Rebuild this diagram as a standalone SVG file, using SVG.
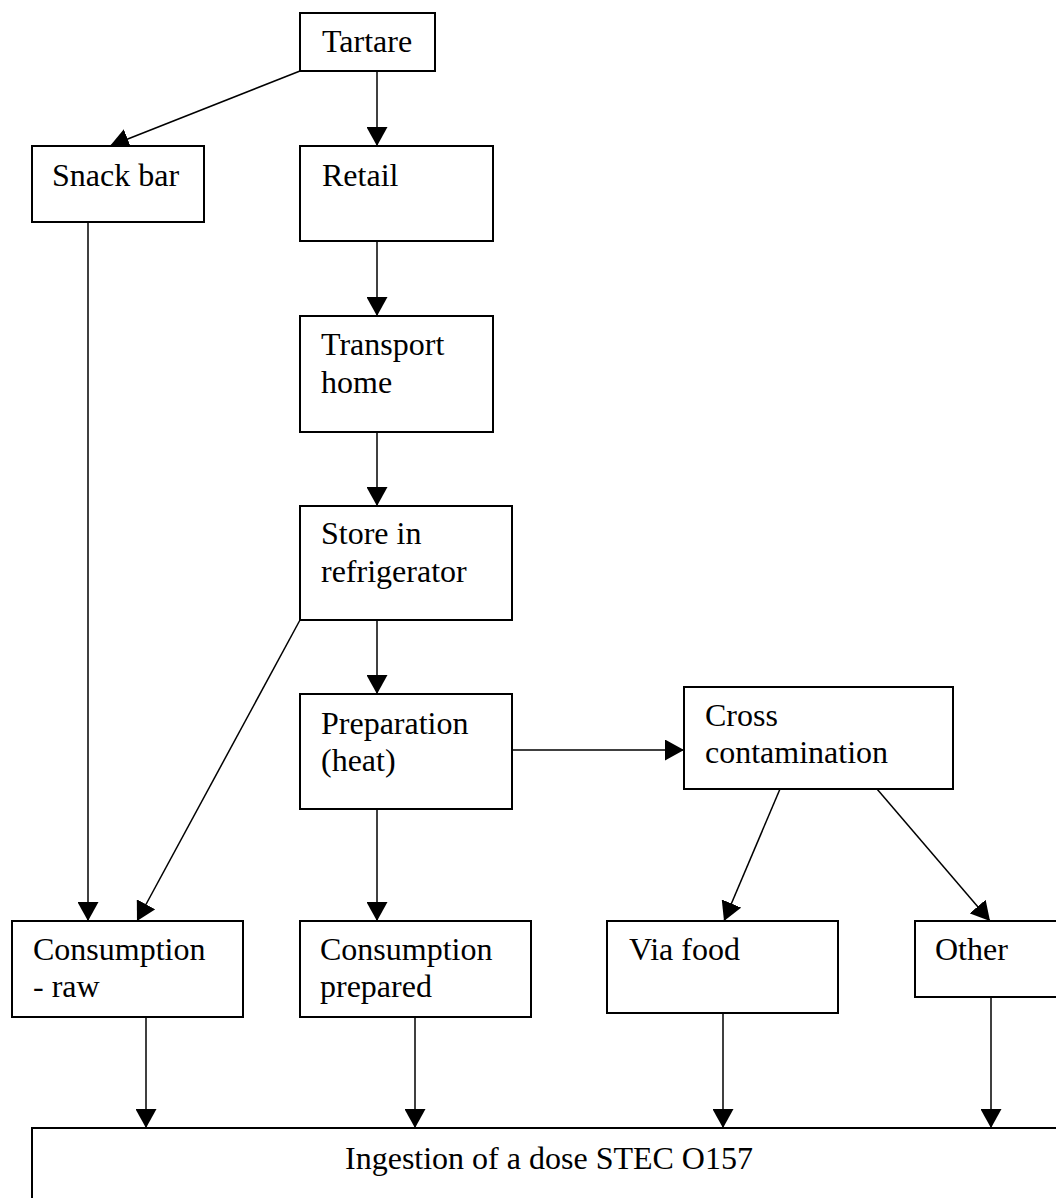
<svg xmlns="http://www.w3.org/2000/svg" width="1056" height="1198" viewBox="0 0 1056 1198">
<style>
.box{fill:#fff;stroke:#000;stroke-width:2}
.t{font-family:"Liberation Serif","Times New Roman",serif;font-size:32px;fill:#000}
.c{stroke:#000;stroke-width:1.5;fill:none}
</style>
<defs>
<marker id="ah" markerUnits="userSpaceOnUse" markerWidth="20" markerHeight="21" refX="19" refY="10.5" orient="auto">
<path d="M0,0 L19,10.5 L0,21 z" fill="#000"/>
</marker>
</defs>
<rect width="1056" height="1198" fill="#fff"/>
<g id="connectors">
<line class="c" x1="300" y1="71" x2="110" y2="146" marker-end="url(#ah)"/>
<line class="c" x1="377" y1="71" x2="377" y2="146" marker-end="url(#ah)"/>
<line class="c" x1="377" y1="241" x2="377" y2="316" marker-end="url(#ah)"/>
<line class="c" x1="377" y1="432" x2="377" y2="506" marker-end="url(#ah)"/>
<line class="c" x1="377" y1="620" x2="377" y2="694" marker-end="url(#ah)"/>
<line class="c" x1="88" y1="222" x2="88" y2="921" marker-end="url(#ah)"/>
<line class="c" x1="300" y1="620" x2="137" y2="921" marker-end="url(#ah)"/>
<line class="c" x1="512" y1="750" x2="684" y2="750" marker-end="url(#ah)"/>
<line class="c" x1="377" y1="809" x2="377" y2="921" marker-end="url(#ah)"/>
<line class="c" x1="780" y1="789" x2="724" y2="921" marker-end="url(#ah)"/>
<line class="c" x1="877" y1="789" x2="990" y2="921" marker-end="url(#ah)"/>
<line class="c" x1="146" y1="1017" x2="146" y2="1128" marker-end="url(#ah)"/>
<line class="c" x1="415" y1="1017" x2="415" y2="1128" marker-end="url(#ah)"/>
<line class="c" x1="723" y1="1013" x2="723" y2="1128" marker-end="url(#ah)"/>
<line class="c" x1="991" y1="997" x2="991" y2="1128" marker-end="url(#ah)"/>
</g>
<g id="tartare"><rect class="box" x="300" y="13" width="135" height="58"/><text class="t" x="322" y="52">Tartare</text></g>
<g id="snackbar"><rect class="box" x="32" y="146" width="172" height="76"/><text class="t" x="52" y="186">Snack bar</text></g>
<g id="retail"><rect class="box" x="300" y="146" width="193" height="95"/><text class="t" x="322" y="186">Retail</text></g>
<g id="transport"><rect class="box" x="300" y="316" width="193" height="116"/><text class="t" x="321" y="355">Transport</text><text class="t" x="321" y="393">home</text></g>
<g id="store"><rect class="box" x="300" y="506" width="212" height="114"/><text class="t" x="321" y="544">Store in</text><text class="t" x="321" y="582">refrigerator</text></g>
<g id="preparation"><rect class="box" x="300" y="694" width="212" height="115"/><text class="t" x="321" y="734">Preparation</text><text class="t" x="321" y="771">(heat)</text></g>
<g id="cross"><rect class="box" x="684" y="687" width="269" height="102"/><text class="t" x="705" y="726">Cross</text><text class="t" x="705" y="763">contamination</text></g>
<g id="consraw"><rect class="box" x="12" y="921" width="231" height="96"/><text class="t" x="33" y="960">Consumption</text><text class="t" x="33" y="997">- raw</text></g>
<g id="consprep"><rect class="box" x="300" y="921" width="231" height="96"/><text class="t" x="320" y="960">Consumption</text><text class="t" x="320" y="997">prepared</text></g>
<g id="viafood"><rect class="box" x="607" y="921" width="231" height="92"/><text class="t" x="629" y="960">Via food</text></g>
<g id="other"><rect class="box" x="915" y="921" width="160" height="76"/><text class="t" x="935" y="960">Other</text></g>
<g id="ingestion"><rect class="box" x="32" y="1128" width="1050" height="100"/><text class="t" x="549" y="1169" text-anchor="middle">Ingestion of a dose STEC O157</text></g>
</svg>
